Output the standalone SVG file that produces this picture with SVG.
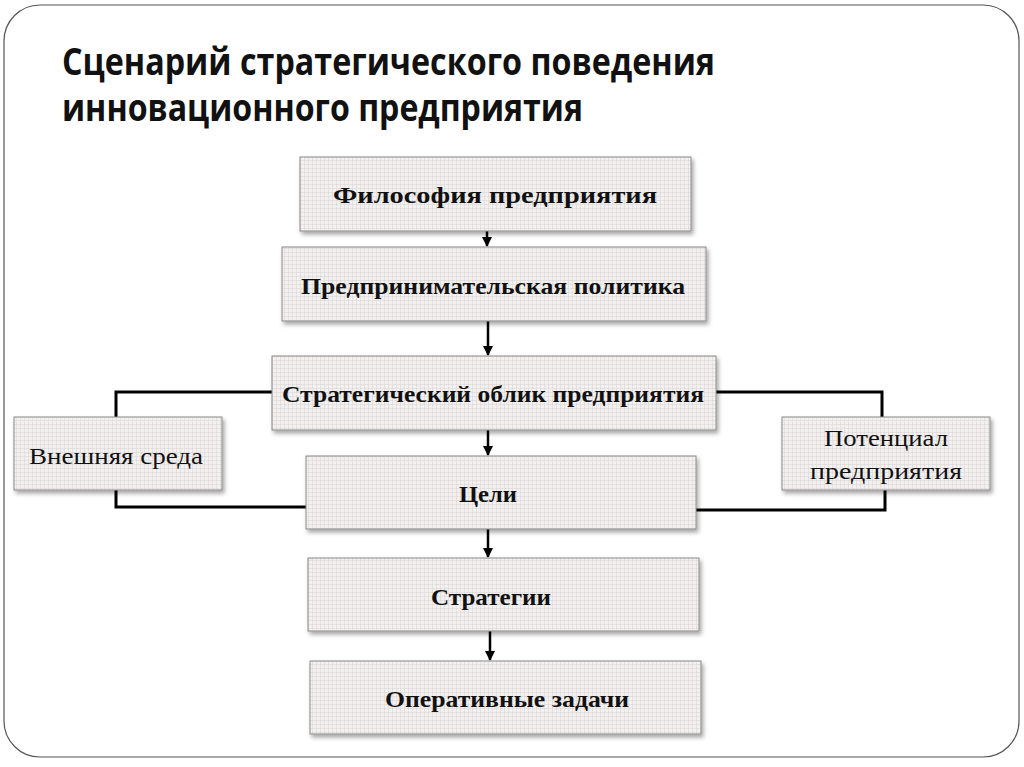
<svg xmlns="http://www.w3.org/2000/svg" width="1024" height="767" viewBox="0 0 1024 767">
<defs>
<pattern id="grid" width="4" height="4" patternUnits="userSpaceOnUse">
<rect width="4" height="4" fill="#f3f0f0"/>
<path d="M0 0.5H4M0.5 0V4" stroke="#dcd6d6" stroke-width="0.6"/>
</pattern>
<filter id="sh" x="-10%" y="-10%" width="120%" height="130%">
<feDropShadow dx="2" dy="3" stdDeviation="2" flood-color="#000" flood-opacity="0.35"/>
</filter>
<marker id="ah" viewBox="0 0 10 10" refX="9" refY="5" markerWidth="4" markerHeight="4" orient="auto" markerUnits="strokeWidth">
<path d="M0 0L10 5L0 10z" fill="#000"/>
</marker>
</defs>
<style>
.box{fill:url(#grid);stroke:#8a8a8a;stroke-width:1;filter:url(#sh)}
.tb{font-family:"Liberation Serif","DejaVu Serif",serif;font-weight:bold;font-size:24px;fill:#111;text-anchor:middle}
.tr{font-family:"Liberation Serif","DejaVu Serif",serif;font-size:24px;fill:#111;text-anchor:middle}
.title{font-family:"Open Sans","Liberation Sans",sans-serif;font-weight:bold;font-size:37px;fill:#111}
.ln{fill:none;stroke:#000;stroke-width:3}
.ar{fill:none;stroke:#000;stroke-width:2.5;marker-end:url(#ah)}
</style>
<rect x="0" y="0" width="1024" height="767" fill="#fff"/>
<rect x="4" y="5" width="1015" height="752" rx="36" ry="36" fill="#fff" stroke="#555" stroke-width="1.2"/>
<g id="title">
<text class="title" x="62" y="75" textLength="653" lengthAdjust="spacingAndGlyphs">Сценарий стратегического поведения</text>
<text class="title" x="62" y="121" textLength="521" lengthAdjust="spacingAndGlyphs">инновационного предприятия</text>
</g>
<g id="connectors">
<line class="ar" x1="487" y1="231" x2="487" y2="246"/>
<line class="ar" x1="488" y1="321" x2="488" y2="355"/>
<line class="ar" x1="488" y1="430" x2="488" y2="455"/>
<line class="ar" x1="488" y1="529" x2="488" y2="557"/>
<line class="ar" x1="490" y1="631" x2="490" y2="660"/>
<polyline class="ln" points="272,392 116,392 116,417"/>
<polyline class="ln" points="116,490 116,507 306,507"/>
<polyline class="ln" points="716,392 882,392 882,417"/>
<polyline class="ln" points="885,490 885,510 696,510"/>
</g>
<g id="n1"><rect class="box" x="300" y="157" width="391" height="74"/><text class="tb" x="495" y="203" textLength="324" lengthAdjust="spacingAndGlyphs">Философия предприятия</text></g>
<g id="n2"><rect class="box" x="282" y="247" width="424" height="74"/><text class="tb" x="493" y="294" textLength="384" lengthAdjust="spacingAndGlyphs">Предпринимательская политика</text></g>
<g id="n3"><rect class="box" x="272" y="356" width="444" height="74"/><text class="tb" x="493" y="402" textLength="422" lengthAdjust="spacingAndGlyphs">Стратегический облик предприятия</text></g>
<g id="n4"><rect class="box" x="306" y="456" width="390" height="73"/><text class="tb" x="488" y="502" textLength="58" lengthAdjust="spacingAndGlyphs">Цели</text></g>
<g id="n5"><rect class="box" x="308" y="558" width="391" height="73"/><text class="tb" x="491" y="605" textLength="120" lengthAdjust="spacingAndGlyphs">Стратегии</text></g>
<g id="n6"><rect class="box" x="310" y="661" width="391" height="73"/><text class="tb" x="507" y="707" textLength="244" lengthAdjust="spacingAndGlyphs">Оперативные задачи</text></g>
<g id="n7"><rect class="box" x="14" y="417" width="208" height="73"/><text class="tr" x="116" y="464" textLength="174" lengthAdjust="spacingAndGlyphs">Внешняя среда</text></g>
<g id="n8"><rect class="box" x="782" y="417" width="208" height="73"/><text class="tr" x="886" y="446" textLength="124" lengthAdjust="spacingAndGlyphs">Потенциал</text><text class="tr" x="886" y="479" textLength="152" lengthAdjust="spacingAndGlyphs">предприятия</text></g>
</svg>
